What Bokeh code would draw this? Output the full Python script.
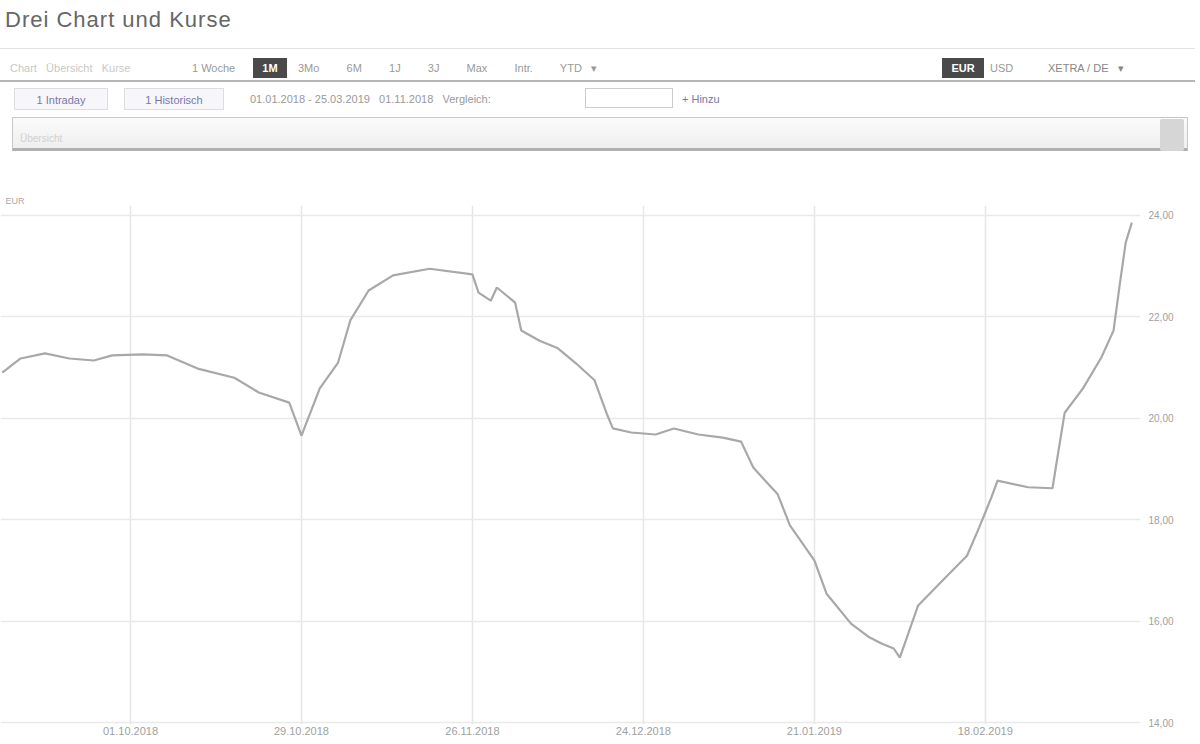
import pandas as pd
from bokeh.plotting import figure
from bokeh.models import Div, FixedTicker, DatetimeTickFormatter, Range1d, ColumnDataSource
from bokeh.layouts import column
from bokeh.embed import file_html
from bokeh.resources import INLINE

# ---- data ----
dates = ["2018-09-10", "2018-09-13", "2018-09-17", "2018-09-21", "2018-09-25", "2018-09-28",
         "2018-10-03", "2018-10-07", "2018-10-12", "2018-10-18", "2018-10-22", "2018-10-27",
         "2018-10-29", "2018-11-01", "2018-11-04", "2018-11-06", "2018-11-09", "2018-11-13",
         "2018-11-19", "2018-11-26", "2018-11-27", "2018-11-29", "2018-11-30", "2018-12-03",
         "2018-12-04", "2018-12-07", "2018-12-10", "2018-12-13", "2018-12-16", "2018-12-18",
         "2018-12-19", "2018-12-22", "2018-12-26", "2018-12-29", "2019-01-02", "2019-01-06",
         "2019-01-09", "2019-01-11", "2019-01-15", "2019-01-17", "2019-01-21", "2019-01-23",
         "2019-01-27", "2019-01-30", "2019-02-01", "2019-02-03", "2019-02-04", "2019-02-07",
         "2019-02-11", "2019-02-15", "2019-02-17", "2019-02-19", "2019-02-20", "2019-02-25",
         "2019-03-01", "2019-03-02", "2019-03-03", "2019-03-06", "2019-03-09", "2019-03-11",
         "2019-03-12", "2019-03-13", "2019-03-14"]
prices = [20.90, 21.18, 21.28, 21.18, 21.14, 21.24,
          21.26, 21.24, 20.98, 20.80, 20.51, 20.31,
          19.66, 20.59, 21.10, 21.93, 22.52, 22.82,
          22.95, 22.84, 22.48, 22.32, 22.58, 22.28,
          21.73, 21.53, 21.38, 21.08, 20.75, 20.09,
          19.80, 19.72, 19.68, 19.80, 19.68, 19.62,
          19.54, 19.03, 18.50, 17.89, 17.20, 16.54,
          15.95, 15.68, 15.56, 15.46, 15.28, 16.31,
          16.80, 17.29, 17.85, 18.44, 18.77, 18.64,
          18.62, 19.37, 20.11, 20.59, 21.20, 21.73,
          22.62, 23.47, 23.86]
y_ticks = [14, 16, 18, 20, 22, 24]
y_tick_labels = ["14,00", "16,00", "18,00", "20,00", "22,00", "24,00"]
x_tick_dates = ["2018-10-01", "2018-10-29", "2018-11-26", "2018-12-24", "2019-01-21", "2019-02-18"]
x_start, x_end = "2018-09-09 17:00", "2019-03-15 10:00"
currency = "EUR"
title_text = "Drei Chart und Kurse"

# ---- header (HTML) ----
F = "'Liberation Sans', Arial, sans-serif"
def box(l, t, w, h, extra=""):
    return f"position:absolute;left:{l}px;top:{t}px;width:{w}px;height:{h}px;{extra}"

html = f"""
<div style="position:relative;width:1195px;height:186px;font-family:{F};color:#888;font-size:11px;">
 <div style="{box(5, 6, 400, 28, 'font-size:22px;letter-spacing:1px;color:#666;line-height:28px;')}">{title_text}</div>
 <div style="{box(0, 48, 1195, 0, 'border-top:1px solid #e2e2e2;')}"></div>
 <div style="{box(0, 80, 1195, 0, 'border-top:2px solid #b5b5b5;')}"></div>
 <div style="{box(10, 60, 170, 16, 'color:#c8c8c8;line-height:16px;')}">Chart &nbsp; Übersicht &nbsp; Kurse</div>
 <div style="{box(192, 60, 60, 16, 'color:#999;line-height:16px;')}">1 Woche</div>
 <div style="{box(253, 58, 34, 20, 'background:#4a4a4a;color:#fff;text-align:center;line-height:20px;font-weight:bold;')}">1M</div>
 <div style="{box(298, 60, 300, 16, 'color:#999;line-height:16px;word-spacing:6px;')}">3Mo &nbsp; 6M &nbsp; 1J &nbsp; 3J &nbsp; Max &nbsp; Intr. &nbsp; YTD ▾</div>
 <div style="{box(942, 58, 42, 20, 'background:#4a4a4a;color:#fff;text-align:center;line-height:20px;font-weight:bold;')}">EUR</div>
 <div style="{box(990, 60, 40, 16, 'color:#999;line-height:16px;')}">USD</div>
 <div style="{box(1048, 60, 140, 16, 'color:#888;line-height:16px;')}">XETRA / DE &nbsp; ▾</div>
 <div style="{box(14, 88, 94, 22, 'border:1px solid #ddd;background:#f7f7fb;color:#7777aa;line-height:22px;text-align:center;')}">1 Intraday</div>
 <div style="{box(124, 88, 100, 22, 'border:1px solid #ddd;background:#f7f7fb;color:#7777aa;line-height:22px;text-align:center;')}">1 Historisch</div>
 <div style="{box(250, 90, 340, 18, 'color:#999;line-height:18px;')}">01.01.2018 - 25.03.2019 &nbsp; 01.11.2018 &nbsp; Vergleich:</div>
 <div style="{box(585, 88, 88, 20, 'border:1px solid #ccc;background:#fff;')}"></div>
 <div style="{box(682, 90, 70, 18, 'color:#7777aa;line-height:18px;')}">+ Hinzu</div>
 <div style="{box(12, 117, 1176, 34, 'border:1px solid #c8c8c8;border-bottom:3px solid #b0b0b0;background:linear-gradient(#fbfbfb,#efefef);')}"></div>
 <div style="{box(20, 132, 400, 12, 'color:#d0d0d0;font-size:10px;')}">Übersicht</div>
 <div style="{box(1160, 119, 24, 32, 'background:#d6d6d6;border-radius:2px;')}"></div>
</div>
"""
header = Div(text=html, width=1195, height=186, margin=(0, 0, 0, 0))

# ---- chart ----
df = pd.DataFrame({"date": pd.to_datetime(dates), "price": prices})
src = ColumnDataSource(df)

p = figure(width=1195, height=556, x_axis_type="datetime", y_axis_location="right",
           output_backend="svg", toolbar_location=None, margin=(0, 0, 0, 0),
           x_range=Range1d(pd.Timestamp(x_start), pd.Timestamp(x_end)),
           y_range=Range1d(13.961, 24.197),
           title=currency, title_location="above",
           min_border_left=0, min_border_right=55, min_border_top=19, min_border_bottom=18)
p.title.text_font = "Liberation Sans"
p.title.text_font_size = "9px"
p.title.text_color = "#aaaaaa"
p.title.text_font_style = "normal"
p.title.offset = 5
p.title.standoff = 0
p.outline_line_color = None
p.background_fill_color = "white"
p.border_fill_color = "white"

p.line("date", "price", source=src, line_color="#a8a8a8", line_width=2.2)

ticks_ms = [float(pd.Timestamp(d).value // 10**6) for d in x_tick_dates]
p.xaxis.ticker = FixedTicker(ticks=ticks_ms)
fmt = "%d.%m.%Y"
p.xaxis.formatter = DatetimeTickFormatter(milliseconds=fmt, seconds=fmt, minsec=fmt, minutes=fmt,
                                          hourmin=fmt, hours=fmt, days=fmt, months=fmt, years=fmt)
p.yaxis.ticker = FixedTicker(ticks=y_ticks)
p.yaxis.major_label_overrides = {t: l for t, l in zip(y_ticks, y_tick_labels)}

for ax in (p.xaxis, p.yaxis):
    ax.axis_line_color = None
    ax.major_tick_line_color = None
    ax.minor_tick_line_color = None
    ax.major_tick_out = 0
    ax.major_label_text_color = "#a0a0a0"
    ax.major_label_text_font = "Liberation Sans"
p.xaxis.major_label_text_font_size = "11px"
p.yaxis.major_label_text_font_size = "10px"
p.xaxis.major_label_standoff = 2
p.yaxis.major_label_standoff = 8

p.xgrid.grid_line_color = "#e6e6e6"
p.ygrid.grid_line_color = "#e9e9e9"
p.xgrid.grid_line_width = 1.5
p.ygrid.grid_line_width = 1.5

layout = column(header, p, spacing=0, margin=(0, 0, 0, 0))
open("out.html", "w").write(file_html(layout, INLINE))
